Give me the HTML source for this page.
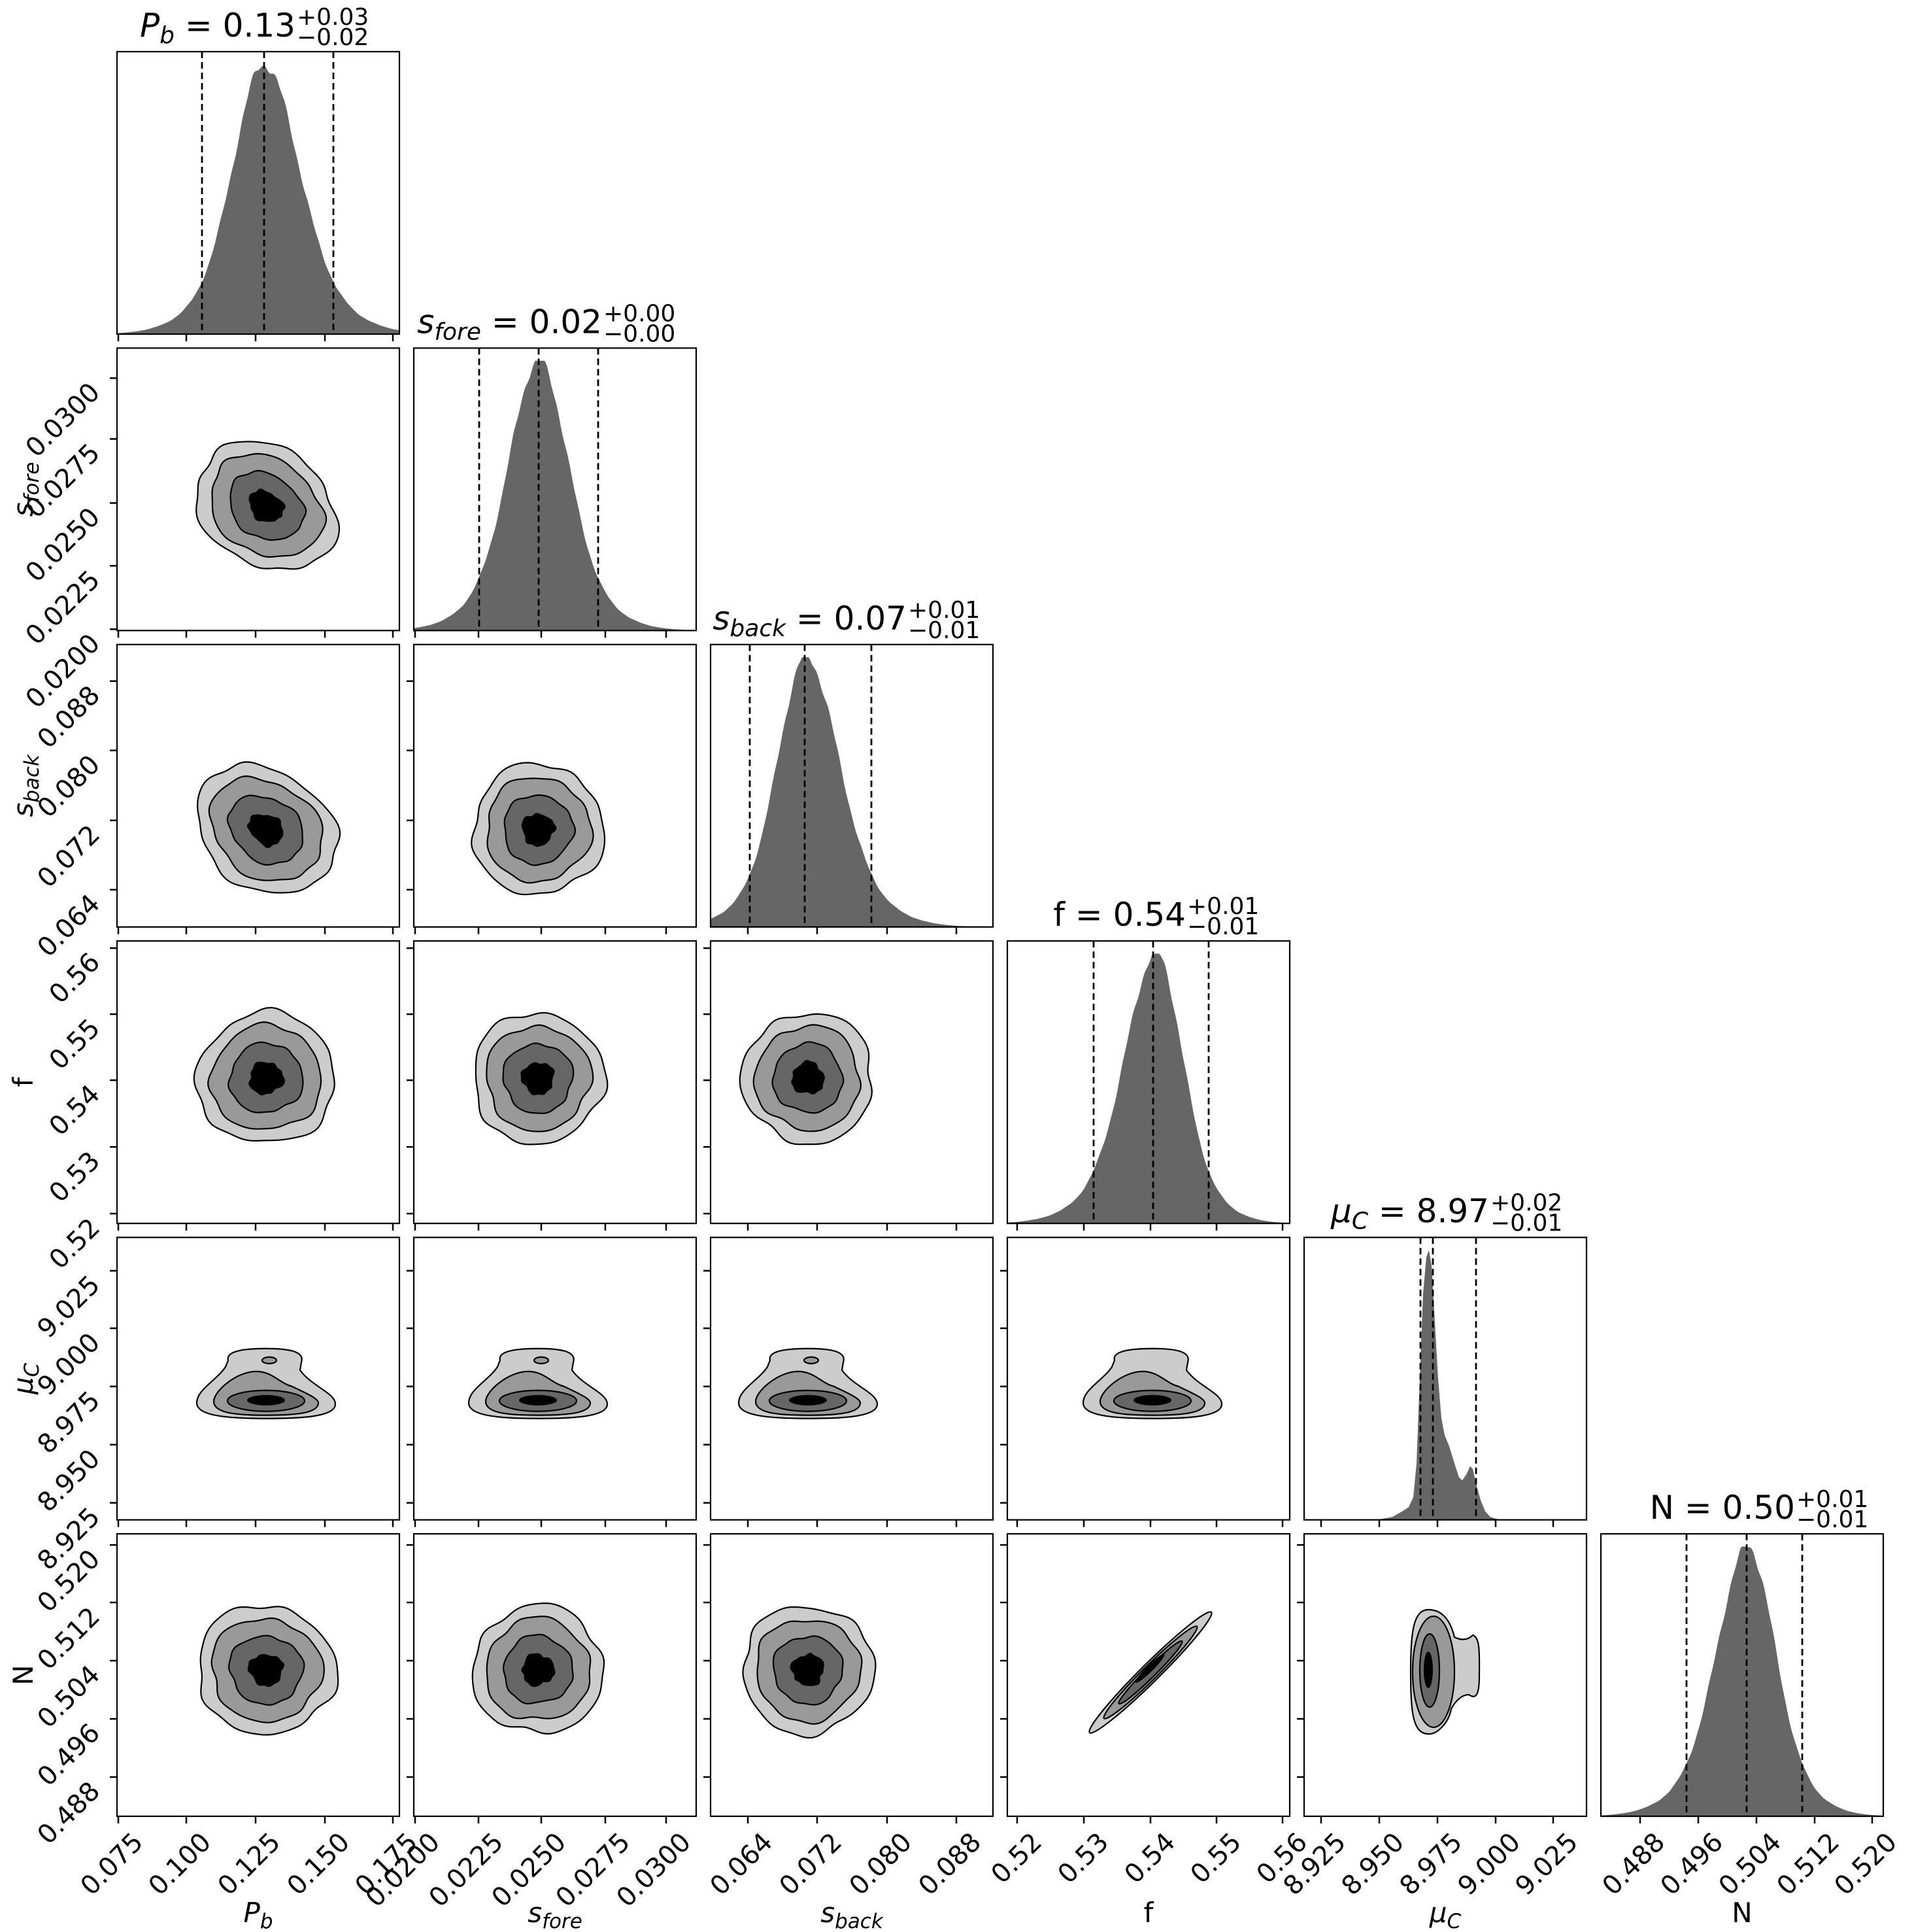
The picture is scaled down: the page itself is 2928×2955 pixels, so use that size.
<!DOCTYPE html>
<html><head><meta charset="utf-8"><style>
html,body{margin:0;padding:0;background:#fff;}
svg{display:block;}
text{font-family:"DejaVu Sans","Liberation Sans",sans-serif;fill:#000;}
</style></head><body>
<svg id="s" xmlns="http://www.w3.org/2000/svg" width="2928" height="2955" viewBox="0 0 2928 2955"></svg>
<script>
const S=432, L=i=>179+454*i, T=j=>79+453.4*j;
const P=[
 {ticks:[2,106,212,318,422],lab:['0.075','0.100','0.125','0.150','0.175'],c:225,q:[130,225,331],cc:228,r:106},
 {ticks:[2,99,195,293,386],lab:['0.0200','0.0225','0.0250','0.0275','0.0300'],c:191,q:[100,191,282],cc:190,r:100},
 {ticks:[57,163,270,376],lab:['0.064','0.072','0.080','0.088'],c:146,q:[60,144,246],cc:149,r:100},
 {ticks:[15,117,219,320,421],lab:['0.52','0.53','0.54','0.55','0.56'],c:228,q:[132,223,308],cc:222,r:100},
 {ticks:[26,115,204,293,381],lab:['8.925','8.950','8.975','9.000','9.025'],c:191,q:[178,197,263],cc:190,r:100},
 {ticks:[60,149,238,327,415],lab:['0.488','0.496','0.504','0.512','0.520'],c:225,q:[131,223,308],cc:224,r:98}
];
let o='';
const G=(t,m,s)=>Math.exp(-0.5*((t-m)/s)**2);
function histPath(i){
 const p=P[i],x0=L(i),b=T(i)+S;let pts=[];
 if(i==4){
  const tb=[[110,0],[135,0.01],[150,0.03],[160,0.045],[167,0.08],[172,0.2],[177,0.5],[182,0.8],[187,0.93],[191,0.955],[195,0.9],[200,0.7],[205,0.5],[210,0.36],[215,0.3],[222,0.26],[230,0.2],[237,0.15],[242,0.14],[248,0.16],[254,0.19],[258,0.18],[264,0.12],[270,0.07],[277,0.03],[285,0.01],[300,0]];
  pts.push([x0+110,b]);for(const [t,h] of tb)pts.push([x0+t,b-h*S]);pts.push([x0+300,b]);
 } else {
  const dl=p.c-p.q[0],dr=p.q[2]-p.c;
  const mix=(t,D)=>0.72*G(t,p.c,0.46*D)+0.28*G(t,p.c,0.8*D);
  pts.push([x0,b]);
  for(let t=0;t<=S;t+=2){let d=t<p.c?mix(t,dl):mix(t,dr);d*=1+0.015*Math.sin(t*0.13+i)+0.008*Math.sin(t*0.37+2*i);pts.push([x0+t,b-Math.min(d,1)*0.955*S]);}
  pts.push([x0+S,b]);
 }
 return 'M'+pts.map(a=>a[0].toFixed(1)+','+a[1].toFixed(1)).join('L')+'Z';
}
function blob(cx,cy,rx,ry,rot,seed,amp){
 let pts=[];const cr=Math.cos(rot),sr=Math.sin(rot);
 for(let k=0;k<96;k++){const th=k/96*2*Math.PI;
  let r=1+amp*(Math.sin(3*th+seed)*0.5+Math.sin(5*th+seed*1.7)*0.35+Math.sin(8*th+seed*2.3)*0.25+Math.sin(11*th+seed*0.7)*0.15);
  const x=rx*r*Math.cos(th),y=ry*r*Math.sin(th);
  pts.push([cx+x*cr-y*sr,cy+x*sr+y*cr]);}
 return 'M'+pts.map(a=>a[0].toFixed(1)+','+a[1].toFixed(1)).join('L')+'Z';
}
const cols=['#cccccc','#999999','#666666','#000000'];
const sc=[1,0.8,0.53,0.25];
function contours(i,j){
 const x0=L(i),y0=T(j);let s='';
 const st='stroke="#000" stroke-width="2.2"';
 if(j==5&&i==3){
  const cx=x0+219,cy=y0+212,R=[[131,14],[100,11],[68,7.5],[31,5]];
  R.forEach((r,k)=>s+=`<ellipse cx="${cx+(k==3?4:0)}" cy="${cy-(k==3?5:0)}" rx="${r[0]}" ry="${r[1]}" transform="rotate(-44.7 ${cx} ${cy})" fill="${cols[k]}" ${k<3?st:''}/>`);
  return s;
 }
 if(j==5&&i==4){
  const cx=x0+190,cy=y0+208;
  s+=`<path d="M${cx-27},${cy} C${cx-27},${cy-60} ${cx-22},${cy-92} ${cx},${cy-92} C${cx+25},${cy-92} ${cx+35},${cy-70} ${cx+40},${cy-50} C${cx+50},${cy-45} ${cx+60},${cy-45} ${cx+68},${cy-53} C${cx+80},${cy-50} ${cx+78},${cy-20} ${cx+78},${cy+10} C${cx+78},${cy+40} ${cx+72},${cy+45} ${cx+62},${cy+38} C${cx+50},${cy+38} ${cx+40},${cy+50} ${cx+35},${cy+60} C${cx+30},${cy+85} ${cx+10},${cy+100} ${cx},${cy+98} C${cx-25},${cy+98} ${cx-27},${cy+60} ${cx-27},${cy}Z" fill="${cols[0]}" ${st}/>`;
  s+=`<ellipse cx="${cx+8}" cy="${cy+3}" rx="32" ry="85" fill="${cols[1]}" ${st}/>`;
  s+=`<ellipse cx="${cx+2}" cy="${cy+1}" rx="15" ry="56" fill="${cols[2]}" ${st}/>`;
  s+=`<ellipse cx="${cx}" cy="${cy}" rx="7" ry="28" fill="#000"/>`;
  return s;
 }
 if(j==4){
  const cx=x0+P[i].cc,cy=y0+243;
  s+=`<path d="M${cx-106},${cy+10} C${cx-106},${cy-10} ${cx-75},${cy-25} ${cx-62},${cy-45} L${cx-58},${cy-55} C${cx-62},${cy-70} ${cx-30},${cy-73} ${cx},${cy-73} C${cx+30},${cy-73} ${cx+60},${cy-70} ${cx+54},${cy-52} L${cx+52},${cy-40} C${cx+70},${cy-15} ${cx+106},${cy-5} ${cx+106},${cy+12} C${cx+106},${cy+32} ${cx+50},${cy+34} ${cx},${cy+34} C${cx-60},${cy+34} ${cx-106},${cy+30} ${cx-106},${cy+10}Z" fill="${cols[0]}" ${st}/>`;
  s+=`<path d="M${cx-80},${cy+8} C${cx-80},${cy-8} ${cx-45},${cy-38} ${cx-15},${cy-38} C${cx+10},${cy-38} ${cx+20},${cy-20} ${cx+40},${cy-15} C${cx+60},${cy-5} ${cx+80},${cy+3} ${cx+80},${cy+10} C${cx+80},${cy+27} ${cx+40},${cy+29} ${cx},${cy+29} C${cx-40},${cy+29} ${cx-80},${cy+27} ${cx-80},${cy+8}Z" fill="${cols[1]}" ${st}/>`;
  s+=`<ellipse cx="${cx}" cy="${cy+7}" rx="59" ry="16" fill="${cols[2]}" ${st}/>`;
  s+=`<ellipse cx="${cx}" cy="${cy+6}" rx="29" ry="8" fill="#000"/>`;
  if(i<3)s+=`<ellipse cx="${cx+5}" cy="${cy-55}" rx="11" ry="5" fill="${cols[1]}" ${st}/>`;
  return s;
 }
 const cx=x0+P[i].cc,cy=y0+S-P[j].cc;
 const rot=(i==0&&(j==1||j==2))?0.6:0.2*((i+j)%3-1);
 const seed=i*3.1+j*1.7;
 const rx=(i==0&&(j==1||j==2))?P[i].r*1.08:P[i].r, ry=(i==0&&(j==1||j==2))?P[j].r*0.9:P[j].r;
 for(let k=0;k<4;k++){
  s+=`<path d="${blob(cx,cy,rx*sc[k],ry*sc[k],rot,seed+k*0.6,k==3?0.14:0.07)}" fill="${cols[k]}" ${k<3?st:''}/>`;
 }
 return s;
}
for(let j=0;j<6;j++)for(let i=0;i<=j;i++){
 const x0=L(i),y0=T(j);
 o+=`<rect x="${x0}" y="${y0}" width="${S}" height="${S}" fill="#fff"/>`;
 if(i==j){
  o+=`<path d="${histPath(i)}" fill="#666666"/>`;
  for(const q of P[i].q)o+=`<line x1="${x0+q}" y1="${y0}" x2="${x0+q}" y2="${y0+S}" stroke="#000" stroke-width="2.8" stroke-dasharray="10,6"/>`;
 } else {
  o+=contours(i,j);
  for(const t of P[j].ticks){const y=y0+S-t;o+=`<line x1="${x0-11}" y1="${y}" x2="${x0}" y2="${y}" stroke="#000" stroke-width="2.5"/>`;}
 }
 for(const t of P[i].ticks){const x=x0+t;o+=`<line x1="${x}" y1="${y0+S}" x2="${x}" y2="${y0+S+11}" stroke="#000" stroke-width="2.5"/>`;}
 o+=`<rect x="${x0}" y="${y0}" width="${S}" height="${S}" fill="none" stroke="#000" stroke-width="2.2"/>`;
 if(j==5){P[i].ticks.forEach((t,k)=>{const x=x0+t,y=y0+S+42;o+=`<text x="${x+40}" y="${y}" font-size="40" text-anchor="end" transform="rotate(-45 ${x+40} ${y})">${P[i].lab[k]}</text>`;});}
 if(i==0&&j>0){P[j].ticks.forEach((t,k)=>{const y=y0+S-t+24,x=x0-24;o+=`<text x="${x}" y="${y}" font-size="40" text-anchor="end" transform="rotate(-45 ${x} ${y})">${P[j].lab[k]}</text>`;});}
}
const tt=[['<tspan font-style="italic">P</tspan><tspan font-style="italic" font-size="36" dy="10">b</tspan><tspan dy="-10"> = 0.13</tspan>','+0.03','−0.02',57],
 ['<tspan font-style="italic">s</tspan><tspan font-style="italic" font-size="36" dy="10">fore</tspan><tspan dy="-10"> = 0.02</tspan>','+0.00','−0.00',72],
 ['<tspan font-style="italic">s</tspan><tspan font-style="italic" font-size="36" dy="10">back</tspan><tspan dy="-10"> = 0.07</tspan>','+0.01','−0.01',84],
 ['f = 0.54','+0.01','−0.01',57],
 ['<tspan font-style="italic">μ</tspan><tspan font-style="italic" font-size="36" dy="10">C</tspan><tspan dy="-10"> = 8.97</tspan>','+0.02','−0.01',67],
 ['N = 0.50','+0.01','−0.01',81]];
tt.forEach((t,i)=>{const cx=L(i)+216+t[3],top=T(i);
 o+=`<text x="${cx}" y="${top-23}" font-size="50" text-anchor="end">${t[0]}</text>`;
 o+=`<text x="${cx+2}" y="${top-41}" font-size="36">${t[1]}</text>`;
 o+=`<text x="${cx+2}" y="${top-10}" font-size="36">${t[2]}</text>`;});
const al=['<tspan font-style="italic">P</tspan><tspan font-style="italic" font-size="31" dy="9">b</tspan>',
 '<tspan font-style="italic">s</tspan><tspan font-style="italic" font-size="31" dy="9">fore</tspan>',
 '<tspan font-style="italic">s</tspan><tspan font-style="italic" font-size="31" dy="9">back</tspan>',
 'f','<tspan font-style="italic">μ</tspan><tspan font-style="italic" font-size="31" dy="9">C</tspan>','N'];
al.forEach((a,i)=>{o+=`<text x="${L(i)+216}" y="2940" font-size="42" text-anchor="middle">${a}</text>`;
 if(i>0){const y=T(i)+216;o+=`<text x="50" y="${y}" font-size="42" text-anchor="middle" transform="rotate(-90 50 ${y})">${a}</text>`;}});
document.getElementById('s').innerHTML=o;
</script>
</body></html>
